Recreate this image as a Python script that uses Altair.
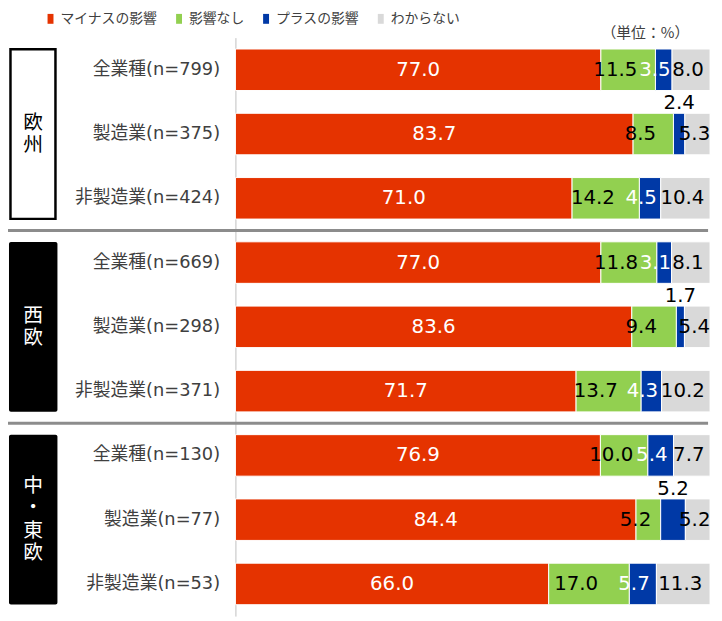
import altair as alt
import pandas as pd

# ---- data ----
groups = ["欧州", "西欧", "中・東欧"]
group_chars = [["欧", "州"], ["西", "欧"], ["中", "・", "東", "欧"]]
row_labels = ["全業種(n=799)", "製造業(n=375)", "非製造業(n=424)",
              "全業種(n=669)", "製造業(n=298)", "非製造業(n=371)",
              "全業種(n=130)", "製造業(n=77)", "非製造業(n=53)"]
row_group = ["欧州", "欧州", "欧州", "西欧", "西欧", "西欧", "中・東欧", "中・東欧", "中・東欧"]
categories = ["マイナスの影響", "影響なし", "プラスの影響", "わからない"]
minus = [77.0, 83.7, 71.0, 77.0, 83.6, 71.7, 76.9, 84.4, 66.0]
no_effect = [11.5, 8.5, 14.2, 11.8, 9.4, 13.7, 10.0, 5.2, 17.0]
plus = [3.5, 2.4, 4.5, 3.1, 1.7, 4.3, 5.4, 5.2, 5.7]
unknown = [8.0, 5.3, 10.4, 8.1, 5.4, 10.2, 7.7, 5.2, 11.3]
above_rows = [1, 4, 7]          # rows whose プラスの影響 label sits above the bar
unit_label = "（単位：%）"
colors = ["#E53300", "#92D050", "#0039A6", "#D9D9D9"]
label_colors = ["white", "black", "white", "black"]
label_shift = [0, -13, -9, -3]   # horizontal nudge of the in-bar labels, per series

# ---- tables ----
row_keys = [f"{i}|{l}" for i, l in enumerate(row_labels)]
series = [minus, no_effect, plus, unknown]
recs = []
for i, key in enumerate(row_keys):
    vals = [s[i] for s in series]
    total = sum(vals)
    cum = 0.0
    for j, cat in enumerate(categories):
        v = vals[j]
        mid = (cum + v / 2) / total
        cum += v
        recs.append({"row": key, "cat": cat, "ord": j, "value": v, "mid": mid,
                     "above": bool(j == 2 and i in above_rows)})
df = pd.DataFrame(recs)
gdf = pd.DataFrame({"group": groups})

# vertical group captions: one character per line, stacked around the group's centre
n_rows = len(row_keys)
LINE = 0.35   # line spacing in row units
crecs = []
for g, chars in enumerate(group_chars):
    first = row_group.index(groups[g])
    size = row_group.count(groups[g])
    centre = first + size / 2
    n = len(chars)
    for k, ch in enumerate(chars):
        crecs.append({"group": groups[g], "ch": ch, "cy": centre + (k - (n - 1) / 2) * LINE})
cdf = pd.DataFrame(crecs)

sep_df = pd.DataFrame({"row": [row_keys[i] for i in range(n_rows)
                               if i > 0 and row_group[i] != row_group[i - 1]]})
unit_df = pd.DataFrame({"t": [unit_label]})

FONT = "Noto Sans CJK JP"
NUMFONT = "DejaVu Sans"
CAPFONT = "Liberation Sans, Noto Sans CJK JP"

row_scale = alt.Scale(domain=row_keys, paddingInner=0.354, paddingOuter=0.177)
grp_scale = alt.Scale(domain=groups, paddingInner=0.12, paddingOuter=0.06)
x_scale = alt.Scale(domain=[0, 1], nice=False)
cy_scale = alt.Scale(domain=[0, n_rows], nice=False, zero=False, reverse=True)


def Yrow():
    return alt.Y("row:N", sort=row_keys, scale=row_scale, axis=None)


def Ygrp():
    return alt.Y("group:N", sort=groups, scale=grp_scale, axis=None)


bars = alt.Chart(df).mark_bar(stroke="white", strokeWidth=1).encode(
    y=alt.Y("row:N", sort=row_keys, scale=row_scale, title=None,
            axis=alt.Axis(labelExpr="split(datum.label, '|')[1]",
                          labelFont="DejaVu Sans, Noto Sans CJK JP", labelFontSize=18,
                          labelColor="#404040", labelPadding=16, labelLimit=240,
                          ticks=False, domainColor="#BFBFBF", domainWidth=1)),
    x=alt.X("value:Q", stack="normalize", scale=x_scale, axis=None),
    color=alt.Color("cat:N", sort=categories,
                    scale=alt.Scale(domain=categories, range=colors),
                    legend=alt.Legend(title=None, orient="none", legendX=-194, legendY=-26,
                                      direction="horizontal", columns=4,
                                      symbolType="M-0.6,-1H0.6V1H-0.6Z", symbolSize=100,
                                      symbolStrokeWidth=0, labelFont=FONT, labelFontSize=14,
                                      labelColor="#404040", columnPadding=15, labelOffset=3,
                                      padding=0)),
    order=alt.Order("ord:Q"),
)

lab_base = alt.Chart(df).encode(
    y=Yrow(),
    x=alt.X("mid:Q", scale=x_scale, axis=None),
    text=alt.Text("value:Q", format=".1f"),
)
label_layers = []
for cat, col, sh in zip(categories, label_colors, label_shift):
    label_layers.append(
        lab_base.transform_filter(f"datum.cat == '{cat}' && !datum.above").mark_text(
            font=NUMFONT, fontSize=20, color=col, baseline="middle", align="center", dx=sh))
lab_above = lab_base.transform_filter("datum.above").mark_text(
    font=NUMFONT, fontSize=20, color="black", baseline="middle", align="center", dy=-31)

seps = alt.Chart(sep_df).mark_rule(color="#8C8C8C", strokeWidth=3, yOffset=-32.5).encode(
    y=Yrow(), x=alt.value(-230), x2=alt.value(478))

box_w = alt.Chart(gdf).transform_filter(f"datum.group == '{groups[0]}'").mark_rect(
    fill="white", stroke="black", strokeWidth=2.5).encode(
    y=Ygrp(), x=alt.value(-227.5), x2=alt.value(-182))
box_b = alt.Chart(gdf).transform_filter(f"datum.group != '{groups[0]}'").mark_rect(
    fill="black", cornerRadius=2).encode(
    y=Ygrp(), x=alt.value(-229), x2=alt.value(-180))

cap = alt.Chart(cdf).mark_text(font=CAPFONT, fontSize=20, baseline="middle", align="center").encode(
    y=alt.Y("cy:Q", scale=cy_scale, axis=None),
    x=alt.value(-204.5),
    text="ch:N",
    color=alt.condition(f"datum.group == '{groups[0]}'", alt.value("black"), alt.value("white")),
)

unit = alt.Chart(unit_df).mark_text(font=FONT, fontSize=15, color="#404040",
                                    align="right", baseline="middle").encode(
    x=alt.value(459), y=alt.value(-4.5), text="t:N")

chart = alt.layer(bars, *label_layers, lab_above, seps,
                  box_w, box_b, cap, unit).resolve_scale(
    y="independent", color="independent").properties(
    width=480, height=585,
    autosize=alt.AutoSizeParams(type="none"),
    padding={"left": 230, "top": 26.5, "right": 4, "bottom": 1},
).configure_view(strokeWidth=0)

chart.save("out.html", embed_options={"renderer": "svg", "actions": False})
